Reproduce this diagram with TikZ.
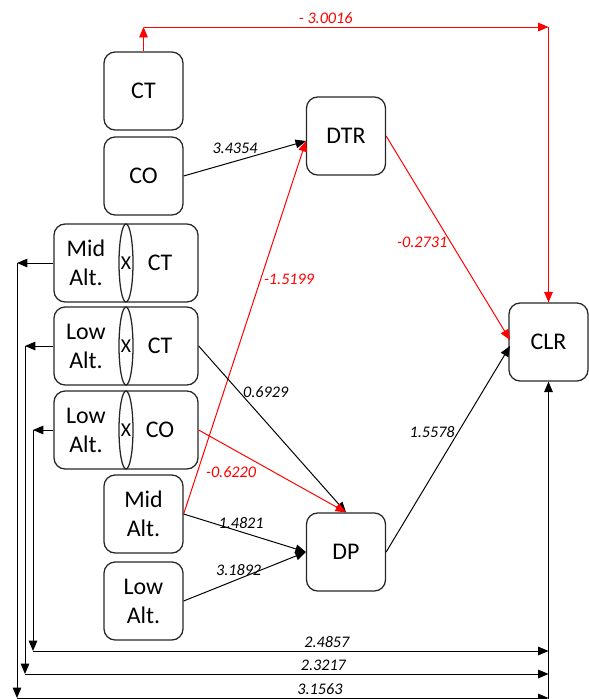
\documentclass[tikz,border=0pt]{standalone}
\usepackage{fontspec}
\setmainfont{Carlito}
\usetikzlibrary{arrows, positioning}

\tikzset{
  box/.style={draw=black!85, line width=0.9pt, rounded corners=0.28cm, minimum width=1.975cm, minimum height=1.95cm, align=center, font=\fontsize{17}{20.6}\selectfont},
  wide/.style={box, minimum width=3.6cm},
  inbox/.style={align=center, inner sep=0pt, font=\fontsize{17}{20.6}\selectfont},
  coef/.style={font=\fontsize{11.5}{13}\selectfont\itshape, inner sep=2pt},
  link/.style={line width=0.7pt, ->},
  redlink/.style={link, red},
}

\begin{document}
\begin{tikzpicture}[x=0.025cm, y=-0.025cm, >=triangle 45]
		\useasboundingbox (0,0) rectangle (588,699);
		% constructs
		\node[box] (ct) at (143.5,91) {CT};
		\node[box] (co) at (143.5,176) {CO};
		\node[box] (dtr) at (346,136) {DTR};
		\node[box] (dp) at (346,552) {DP};
		\node[box] (clr) at (548.5,342) {CLR};
		\node[box] (mid) at (143.5,514) {Mid\\Alt.};
		\node[box] (low) at (143.5,601) {Low\\Alt.};
		% interaction terms
		\node[wide] (mct) at (126,263) {};
		\node[wide] (lct) at (126,346) {};
		\node[wide] (lco) at (126,430) {};
		\foreach \n/\a/\b in {mct/Mid/CT, lct/Low/CT, lco/Low/CO} {
			\draw[line width=0.9pt, draw=black!85] (\n.center) ellipse (0.175cm and 0.975cm);
			\node[inbox] (\n-l) at ([xshift=-1cm]\n.center) {\a\\Alt.};
			\node[inbox] (\n-r) at ([xshift=0.85cm]\n.center) {\b};
			\node[font=\fontsize{14}{14}\selectfont, inner sep=0pt] (\n-x) at (\n.center) {X};
		}
		% free ends
		\coordinate (dtrin) at (306,141); \coordinate (clrin1) at (510,340); \coordinate (clrin2) at (510,346);
		\coordinate (tl) at (143.5,27); \coordinate (tr) at (clr.north |- tl); \coordinate (br) at (548.5,699);
		\coordinate (m1) at (17,263); \coordinate (m2) at (17,698);
		\coordinate (l1) at (25,346); \coordinate (l2) at (25,674);
		\coordinate (c1) at (33,430); \coordinate (c2) at (33,651);
		% direct effect CT -> CLR
		\draw[redlink] (ct.north) -- (tl);
		\draw[redlink] (tl) -- node[pos=0.45, above, coef]{- 3.0016} (tr);
		\draw[redlink] (tr) -- (clr.north);
		% paths to DTR and DP
		\draw[link] (co.east) -- node[pos=0.42, above=3pt, coef]{3.4354} (dtrin);
		\draw[redlink] (mid.east) -- node[pos=0.63, right, coef]{-1.5199} (dtrin);
		\draw[link] (lct.east) -- node[pos=0.28, right, coef]{0.6929} (dp.north);
		\draw[redlink] (lco.east) -- node[pos=0.22, below=11pt, coef]{-0.6220} (dp.north);
		\draw[link] (mid.east) -- node[pos=0.47, above, coef]{1.4821} (dp.west);
		\draw[link] (low.east) -- node[pos=0.45, above, coef]{3.1892} (dp.west);
		\draw[redlink] (dtr.east) -- node[pos=0.52, left, coef]{-0.2731} (clrin1);
		\draw[link] (dp.east) -- node[pos=0.58, left, coef]{1.5578} (clrin2);
		% moderators straight to CLR
		\draw[link] (mct.west) -- (m1); \draw[link] (m1) -- (m2); \draw[link] (m2) -- node[pos=0.57, above, coef]{3.1563} (m2 -| br);
		\draw[link] (lct.west) -- (l1); \draw[link] (l1) -- (l2); \draw[link] (l2) -- node[pos=0.57, above, coef]{2.3217} (l2 -| br);
		\draw[link] (lco.west) -- (c1); \draw[link] (c1) -- (c2); \draw[link] (c2) -- node[pos=0.57, above, coef]{2.4857} (c2 -| br);
		\draw[link] (br) -- (clr.south);
	\end{tikzpicture}
\end{document}
